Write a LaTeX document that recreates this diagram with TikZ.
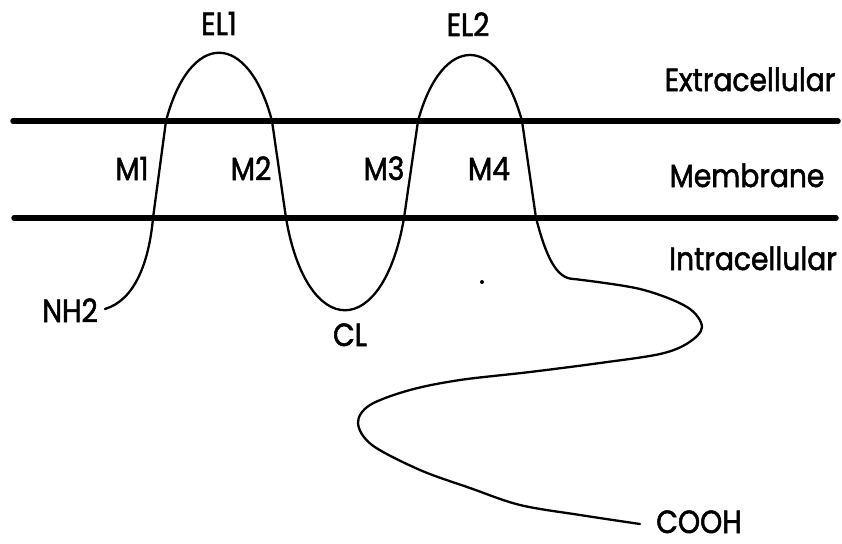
\documentclass[tikz,border=0pt]{standalone}
\usepackage{fontspec}
\setmainfont{Poppins}
\newfontfamily\lblfont{Poppins}[FakeStretch=0.88,FakeBold=1.6]
\begin{document}
\begin{tikzpicture}[x=1pt,y=-1pt,
  membrane/.style={line width=5.5pt,line cap=round},
  chain/.style={line width=2.3pt,line join=round,line cap=round},
  lbl/.style={inner sep=0pt,anchor=base,font=\lblfont\fontsize{32}{32}\selectfont}]
\useasboundingbox (0,0) rectangle (842,543);

% membrane boundaries
\coordinate (topL) at (13,121);
\coordinate (topR) at (838,121);
\coordinate (botL) at (14,218);
\coordinate (botR) at (836,218);
\draw[membrane] (topL) -- (topR);
\draw[membrane] (botL) -- (botR);

% crossing points of the helices
\coordinate (n) at (105,309);
\coordinate (m1b) at (153,218);
\coordinate (m1t) at (166,121);
\coordinate (m2t) at (272,121);
\coordinate (m2b) at (286,218);
\coordinate (m3b) at (404,218);
\coordinate (m3t) at (418,121);
\coordinate (m4t) at (522,121);
\coordinate (m4b) at (536,218);

% polypeptide chain through the membrane
\draw[chain] (n) .. controls (135,300) and (149,262) .. (m1b)
  -- (m1t) .. controls (190,30) and (248,30) .. (m2t)
  -- (m2b) .. controls (307,341) and (383,341) .. (m3b)
  -- (m3t) .. controls (442,33) and (498,33) .. (m4t)
  -- (m4b) .. controls (546,256) and (556,279) .. (574,279);

% C-terminal tail
\draw[chain] plot[smooth,tension=0.55] coordinates {
  (574,279) (640,289) (687,307) (702,327) (688,343) (660,354)
  (600,363) (530,372) (460,380) (410,390) (370,405) (358,423)
  (372,445) (420,470) (470,488) (520,505) (580,515) (640,524)};

\fill (482,282) circle (2);

% labels (placed on their baselines)
\node[lbl] (el1) at (219,35) {EL1};
\node[lbl] (el2) at (468,36) {EL2};
\node[lbl] (m1) at (132,180) {M1};
\node[lbl] (m2) at (251,180) {M2};
\node[lbl] (m3) at (384,180) {M3};
\node[lbl] (m4) at (489,180) {M4};
\node[lbl] (cl) at (350,346) {CL};
\node[lbl] (nh2) at (70,322) {NH2};
\node[lbl] (cooh) at (699,533) {COOH};
\node[lbl] (ext) at (750,91) {Extracellular};
\node[lbl] (mem) at (747,187) {Membrane};
\node[lbl] (intra) at (753,270) {Intracellular};
\end{tikzpicture}
\end{document}
